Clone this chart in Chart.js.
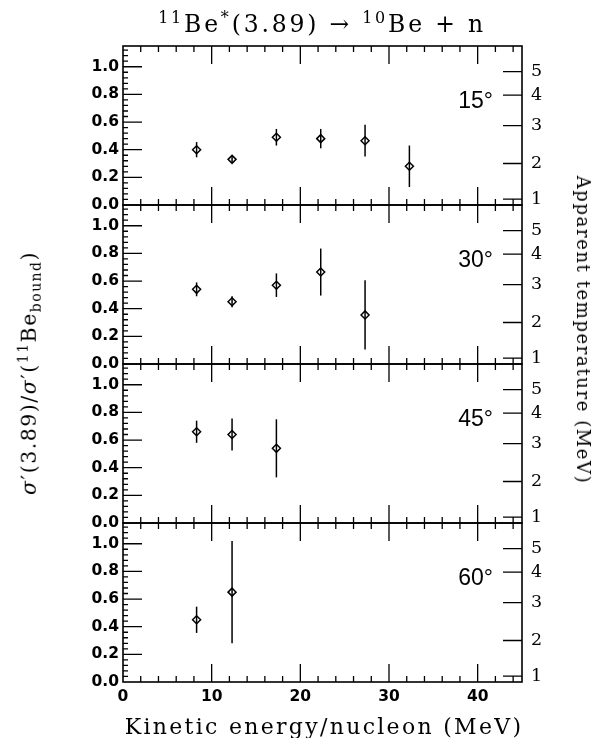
<!DOCTYPE html>
<html>
<head>
<meta charset="utf-8">
<title>11Be*(3.89) ratio vs kinetic energy</title>
<script src="https://cdn.jsdelivr.net/npm/chart.js@4.4.1/dist/chart.umd.min.js"></script>
<style>
  body { margin: 0; background: #fff; }
  #wrap { position: relative; width: 600px; height: 738px; overflow: hidden; background: #fff; }
  #wrap canvas { position: absolute; left: 0; }
  .lbl { position: absolute; color: #000; white-space: nowrap; font-family: "DejaVu Serif", serif; line-height: 1; }
  .lbl sup, .lbl sub { font-size: 0.68em; line-height: 0; }
  #title { left: 322px; top: 13px; font-size: 23.5px; letter-spacing: 2.8px; transform: translateX(-50%); }
  #xTitle { left: 324px; top: 716px; font-size: 22px; letter-spacing: 2.3px; transform: translateX(-50%); }
  #yTitle { left: 29px; top: 373px; font-size: 20.5px; letter-spacing: 1.5px; transform: translate(-50%, -50%) rotate(-90deg); }
  #y2Title { left: 583px; top: 330px; font-size: 18px; letter-spacing: 1.6px; transform: translate(-50%, -50%) rotate(90deg); }
</style>
</head>
<body>
<div id="wrap">
  <canvas id="panel0"></canvas>
  <canvas id="panel1"></canvas>
  <canvas id="panel2"></canvas>
  <canvas id="panel3"></canvas>
  <div class="lbl" id="title"><sup>11</sup>Be<sup>*</sup>(3.89) &rarr; <sup>10</sup>Be + n</div>
  <div class="lbl" id="xTitle">Kinetic energy/nucleon (MeV)</div>
  <div class="lbl" id="yTitle"><i>&sigma;</i>&prime;(3.89)/<i>&sigma;</i>&prime;(<sup>11</sup>Be<sub>bound</sub>)</div>
  <div class="lbl" id="y2Title">Apparent temperature (MeV)</div>
</div>
<script>
// =============================================
// DATA
// =============================================
const energies = [8.3, 12.3, 17.3, 22.3, 27.3, 32.3];

const angles = ["15°", "30°", "45°", "60°"];

const ratio15 = [0.40, 0.33, 0.49, 0.48, 0.465, 0.28];
const err15   = [0.055, 0.02, 0.06, 0.07, 0.115, 0.15];

const ratio30 = [0.54, 0.45, 0.57, 0.665, 0.355];
const err30   = [0.05, 0.04, 0.085, 0.17, 0.25];

const ratio45 = [0.66, 0.64, 0.54];
const err45   = [0.08, 0.115, 0.21];

const ratio60 = [0.45, 0.65];
const err60   = [0.095, 0.37];

const xTickLabels = [0, 10, 20, 30, 40];
const yTickLabels = [0, 0.2, 0.4, 0.6, 0.8, 1.0];
const tempTicks = [1, 2, 3, 4, 5];

// ratio <-> apparent temperature: R = K * exp(-E*/T)
const EXC_ENERGY = 3.89;
const TEMP_K = 2.1;
function tempToRatio(t) {
    return TEMP_K * Math.exp(-EXC_ENERGY / t);
}

// =============================================
// LAYOUT
// =============================================
const PLOT_LEFT = 123;
const PLOT_RIGHT = 522;
const PANEL_TOP = [46, 205, 364, 523];
const PANEL_H = 159;
const PAD = 12;
const X_MAX = 45;
const Y_MAX = 1.15;

const tickFont = { family: "DejaVu Sans", weight: "bold", size: 15.5 };
const tempFont = { family: "DejaVu Serif", size: 17.5 };

// =============================================
// PLUGINS
// =============================================

// vertical error bars, drawn through the diamonds
const errorBars = {
    id: "errorBars",
    afterDatasetsDraw(chart) {
        const ctx = chart.ctx;
        const yScale = chart.scales.y;
        chart.data.datasets.forEach((ds, di) => {
            const meta = chart.getDatasetMeta(di);
            ctx.save();
            ctx.strokeStyle = "#000";
            ctx.lineWidth = 1.5;
            meta.data.forEach((pt, i) => {
                const v = ds.data[i].y;
                const e = ds.errors[i];
                ctx.beginPath();
                ctx.moveTo(pt.x, yScale.getPixelForValue(v + e));
                ctx.lineTo(pt.x, yScale.getPixelForValue(v - e));
                ctx.stroke();
            });
            ctx.restore();
        });
    }
};

// frame, inward ticks and angle label
const frame = {
    id: "frame",
    afterDraw(chart, args, opts) {
        const ctx = chart.ctx;
        const a = chart.chartArea;
        const xs = chart.scales.x;
        const ys = chart.scales.y;
        ctx.save();
        ctx.strokeStyle = "#000";
        ctx.lineWidth = 1.6;
        ctx.strokeRect(a.left, a.top, a.right - a.left, a.bottom - a.top);

        ctx.lineWidth = 1.3;
        ctx.beginPath();
        // x ticks, bottom and top
        for (let v = 2; v < X_MAX; v += 2) {
            const px = xs.getPixelForValue(v);
            const len = v % 10 === 0 ? 18 : 6;
            ctx.moveTo(px, a.bottom); ctx.lineTo(px, a.bottom - len);
            ctx.moveTo(px, a.top); ctx.lineTo(px, a.top + len);
        }
        // left ticks
        for (let k = 1; k * 0.04 < Y_MAX; k++) {
            const py = ys.getPixelForValue(k * 0.04);
            const len = k % 5 === 0 ? 19 : 5;
            ctx.moveTo(a.left, py); ctx.lineTo(a.left + len, py);
        }
        // right ticks (apparent temperature)
        tempTicks.forEach(t => {
            const py = ys.getPixelForValue(tempToRatio(t));
            ctx.moveTo(a.right, py); ctx.lineTo(a.right - 19, py);
        });
        ctx.stroke();

        ctx.fillStyle = "#000";
        ctx.font = "23px 'Liberation Sans'";
        ctx.textAlign = "right";
        ctx.textBaseline = "middle";
        ctx.fillText(opts.text, a.right - 29, ys.getPixelForValue(0.75));
        ctx.restore();
    }
};

// =============================================
// BUILD PANELS
// =============================================

// keep tick-label overflow from shrinking the plot area
function noVerticalOverflow(s) {
    s.paddingTop = 0;
    s.paddingBottom = 0;
}

function makePanel(idx, ratios, errors) {
    const isLast = idx === 3;
    const canvas = document.getElementById("panel" + idx);
    const top = PANEL_TOP[idx] - PAD;
    const height = isLast ? 738 - top : PANEL_H + 2 * PAD;
    canvas.width = 600;
    canvas.height = height;
    canvas.style.top = top + "px";
    canvas.style.width = "600px";
    canvas.style.height = height + "px";

    const points = ratios.map((r, i) => ({ x: energies[i], y: r }));

    const xScale = {
        type: "linear",
        min: 0,
        max: X_MAX,
        display: isLast,
        afterBuildTicks: s => { s.ticks = xTickLabels.map(v => ({ value: v })); },
        afterFit: s => {
            s.paddingLeft = 0;
            s.paddingRight = 0;
            if (isLast) s.height = 738 - (PANEL_TOP[3] + PANEL_H);
        },
        grid: { display: false, drawTicks: false },
        border: { display: false },
        ticks: { font: tickFont, color: "#000", padding: 6, maxRotation: 0 }
    };

    return new Chart(canvas, {
        type: "scatter",
        data: {
            datasets: [{
                data: points,
                errors: errors,
                pointStyle: "rectRot",
                pointRadius: 4,
                borderColor: "#000",
                backgroundColor: "rgba(255,255,255,0)",
                borderWidth: 1.5
            }]
        },
        options: {
            responsive: false,
            animation: false,
            events: [],
            layout: { padding: { top: PAD, bottom: isLast ? 0 : PAD, left: 0, right: 0 } },
            plugins: {
                legend: { display: false },
                tooltip: { enabled: false },
                frame: { text: angles[idx] }
            },
            scales: {
                x: xScale,
                y: {
                    position: "left",
                    min: 0,
                    max: Y_MAX,
                    afterBuildTicks: s => { s.ticks = yTickLabels.map(v => ({ value: v })); },
                    afterFit: s => { s.width = PLOT_LEFT; noVerticalOverflow(s); },
                    grid: { display: false, drawTicks: false },
                    border: { display: false },
                    ticks: { font: tickFont, color: "#000", padding: 4, callback: v => v.toFixed(1) }
                },
                y2: {
                    position: "right",
                    min: 0,
                    max: Y_MAX,
                    afterBuildTicks: s => { s.ticks = tempTicks.map(t => ({ value: tempToRatio(t) })); },
                    afterFit: s => { s.width = 600 - PLOT_RIGHT; noVerticalOverflow(s); },
                    grid: { display: false, drawTicks: false },
                    border: { display: false },
                    ticks: { font: tempFont, color: "#000", padding: 9, callback: (v, i) => String(tempTicks[i]) }
                }
            }
        },
        plugins: [errorBars, frame]
    });
}

makePanel(0, ratio15, err15);
makePanel(1, ratio30, err30);
makePanel(2, ratio45, err45);
makePanel(3, ratio60, err60);
</script>
</body>
</html>
